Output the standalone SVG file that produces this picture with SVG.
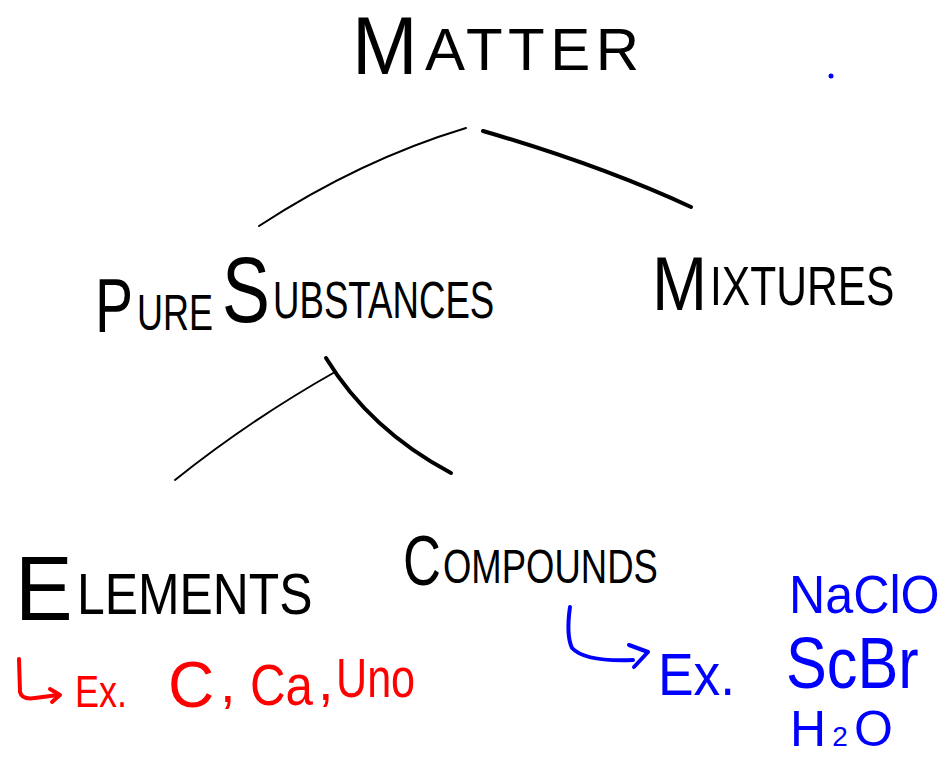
<svg xmlns="http://www.w3.org/2000/svg" width="949" height="757" viewBox="0 0 949 757">
<style>
  text { font-family: "Liberation Sans", Arial, sans-serif; }
  .k { fill: #000; }
  .r { fill: #ff0000; }
  .b { fill: #0000ff; }
  .thin { fill: none; stroke: #000; stroke-width: 2; stroke-linecap: round; }
  .thick { fill: none; stroke: #000; stroke-width: 4; stroke-linecap: round; }
  .ra { fill: none; stroke: #ff0000; stroke-width: 4; stroke-linecap: round; stroke-linejoin: round; }
  .ba { fill: none; stroke: #0000ff; stroke-width: 4; stroke-linecap: round; stroke-linejoin: round; }
</style>
<rect width="949" height="757" fill="#fff"/>

<g id="connectors">
  <path class="thin" d="M466,128 Q360,160 259,226"/>
  <path class="thick" d="M483,131 Q600,165 691,207"/>
  <path class="thin" d="M335,372 Q250,420 175,480"/>
  <path class="thick" d="M326,358 Q370,430 451,473"/>
</g>

<g id="matter">
  <text class="k" transform="matrix(0.96 0 0 1 352 74)" font-size="82">M</text>
  <text class="k" x="425" y="70" font-size="60" textLength="214" lengthAdjust="spacing">ATTER</text>
</g>

<g id="pure-substances">
  <text class="k" transform="matrix(0.75 0 0 1 95 332)" font-size="76">P</text>
  <text class="k" transform="matrix(0.72 0 0 1 137 330)" font-size="50">URE</text>
  <text class="k" transform="matrix(0.78 0 0 1 222 322)" font-size="92">S</text>
  <text class="k" transform="matrix(0.705 0 0 1 273 318)" font-size="52">UBSTANCES</text>
</g>

<g id="mixtures">
  <text class="k" transform="matrix(0.87 0 0 1 652 310)" font-size="76">M</text>
  <text class="k" transform="matrix(0.76 0 0 1 710 305)" font-size="56">IXTURES</text>
</g>

<g id="elements">
  <text class="k" transform="matrix(0.96 0 0 1 15 620)" font-size="90">E</text>
  <text class="k" transform="matrix(0.86 0 0 1 77 614)" font-size="58">LEMENTS</text>
  <path class="ra" d="M19,659 L20,692 Q22,700 35,698 L58,695"/>
  <path class="ra" d="M50,689 L60,695 L52,702"/>
  <text class="r" transform="matrix(0.82 0 0 1 75 707)" font-size="44">Ex.</text>
  <text class="r" x="168" y="707" font-size="64">C</text>
  <text class="r" x="220" y="702" font-size="56">,</text>
  <text class="r" transform="matrix(0.85 0 0 1 250 705)" font-size="58">Ca</text>
  <text class="r" x="318" y="700" font-size="56">,</text>
  <text class="r" transform="matrix(0.77 0 0 1 336 697)" font-size="56">Uno</text>
</g>

<g id="compounds">
  <text class="k" transform="matrix(0.75 0 0 1 403 585)" font-size="70">C</text>
  <text class="k" transform="matrix(0.76 0 0 1 443 583)" font-size="48">OMPOUNDS</text>
  <path class="ba" d="M570,607 Q566,635 572,648 Q585,662 633,660"/>
  <path class="ba" d="M629,645 L648,652 L634,667"/>
  <text class="b" transform="matrix(0.89 0 0 1 658 695)" font-size="60">Ex.</text>
  <text class="b" transform="matrix(0.93 0 0 1 789 613)" font-size="54">NaClO</text>
  <text class="b" transform="matrix(0.85 0 0 1 786 688)" font-size="72">ScBr</text>
  <text class="b" x="790" y="746" textLength="103" lengthAdjust="spacing"><tspan font-size="50">H</tspan><tspan font-size="28">2</tspan><tspan font-size="50">O</tspan></text>
</g>

<circle cx="831" cy="76" r="2.5" fill="#0000ff"/>
</svg>
